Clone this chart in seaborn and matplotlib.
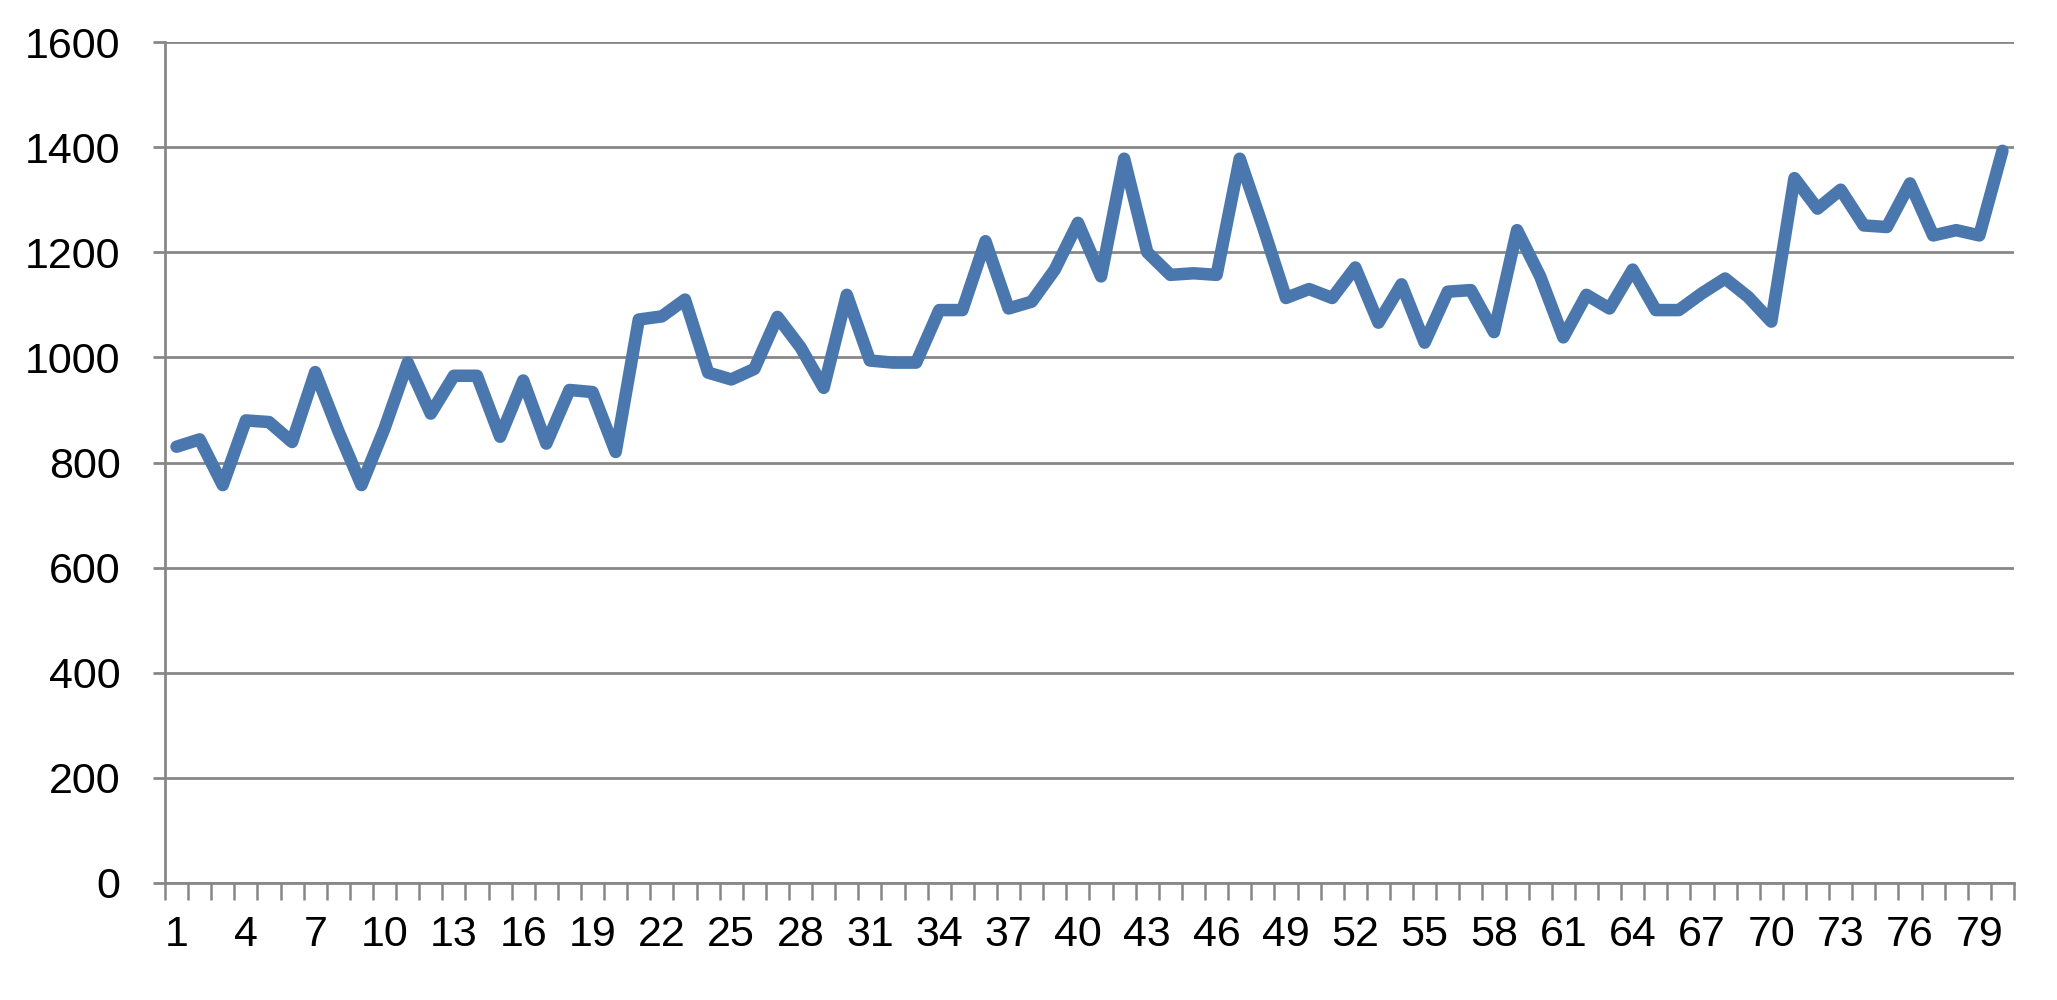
import numpy as np
import pandas as pd
import matplotlib
matplotlib.use("Agg")
import matplotlib.pyplot as plt
import seaborn as sns

# ============================================================================
# DATA
# ============================================================================
periods = list(range(1, 81))
values = [
    830, 844, 757, 880, 877, 839, 972, 860, 757, 865,
    990, 893, 965, 965, 849, 956, 836, 938, 934, 820,
    1072, 1078, 1110, 971, 958, 978, 1077, 1019, 942, 1119,
    994, 990, 990, 1090, 1090, 1221, 1093, 1106, 1167, 1256,
    1154, 1378, 1200, 1157, 1160, 1157, 1378, 1249, 1113, 1130,
    1113, 1171, 1066, 1139, 1028, 1125, 1128, 1048, 1242, 1154,
    1038, 1119, 1093, 1167, 1090, 1090, 1122, 1150, 1115, 1068,
    1341, 1283, 1319, 1251, 1248, 1331, 1232, 1242, 1232, 1393,
]
x_labels = list(range(1, 81, 3))
y_ticks = list(range(0, 1601, 200))

df = pd.DataFrame({"period": periods, "value": values})

# ============================================================================
# STYLE
# ============================================================================
sns.set_style("white")
plt.rcParams["font.family"] = ["Liberation Sans", "DejaVu Sans"]

GRID = "#878787"
LINE = "#4A78AE"

fig = plt.figure(figsize=(20.57, 10), dpi=100)
ax = fig.add_axes([0.0802, 0.117, 0.8989, 0.841])

sns.lineplot(data=df, x="period", y="value", ax=ax, color=LINE,
             linewidth=9, legend=False)

ax.set_xlim(0.5, len(periods) + 0.5)
ax.set_ylim(0, 1600)

# horizontal gridlines
ax.set_yticks(y_ticks)
ax.set_yticklabels([str(v) for v in y_ticks])
ax.yaxis.grid(True, color=GRID, linewidth=2)
ax.xaxis.grid(False)
ax.set_axisbelow(True)

# x labels every 3 categories, tick marks on category boundaries
ax.set_xticks(x_labels)
ax.set_xticklabels([str(v) for v in x_labels])
ax.set_xticks(np.arange(0.5, len(periods) + 1, 1.0), minor=True)
ax.tick_params(axis="x", which="major", length=0, pad=23, labelsize=31,
               labelcolor="black")
ax.tick_params(axis="x", which="minor", length=12, width=1.8, color=GRID,
               direction="out", bottom=True)
ax.tick_params(axis="y", which="major", length=9, width=2, color=GRID,
               direction="out", pad=23, labelsize=31, left=True,
               labelcolor="black")

for side in ["top", "right"]:
    ax.spines[side].set_visible(False)
for side in ["left", "bottom"]:
    ax.spines[side].set_color(GRID)
    ax.spines[side].set_linewidth(2)

ax.set_xlabel("")
ax.set_ylabel("")

fig.savefig("out.png", dpi=100, facecolor="white")
